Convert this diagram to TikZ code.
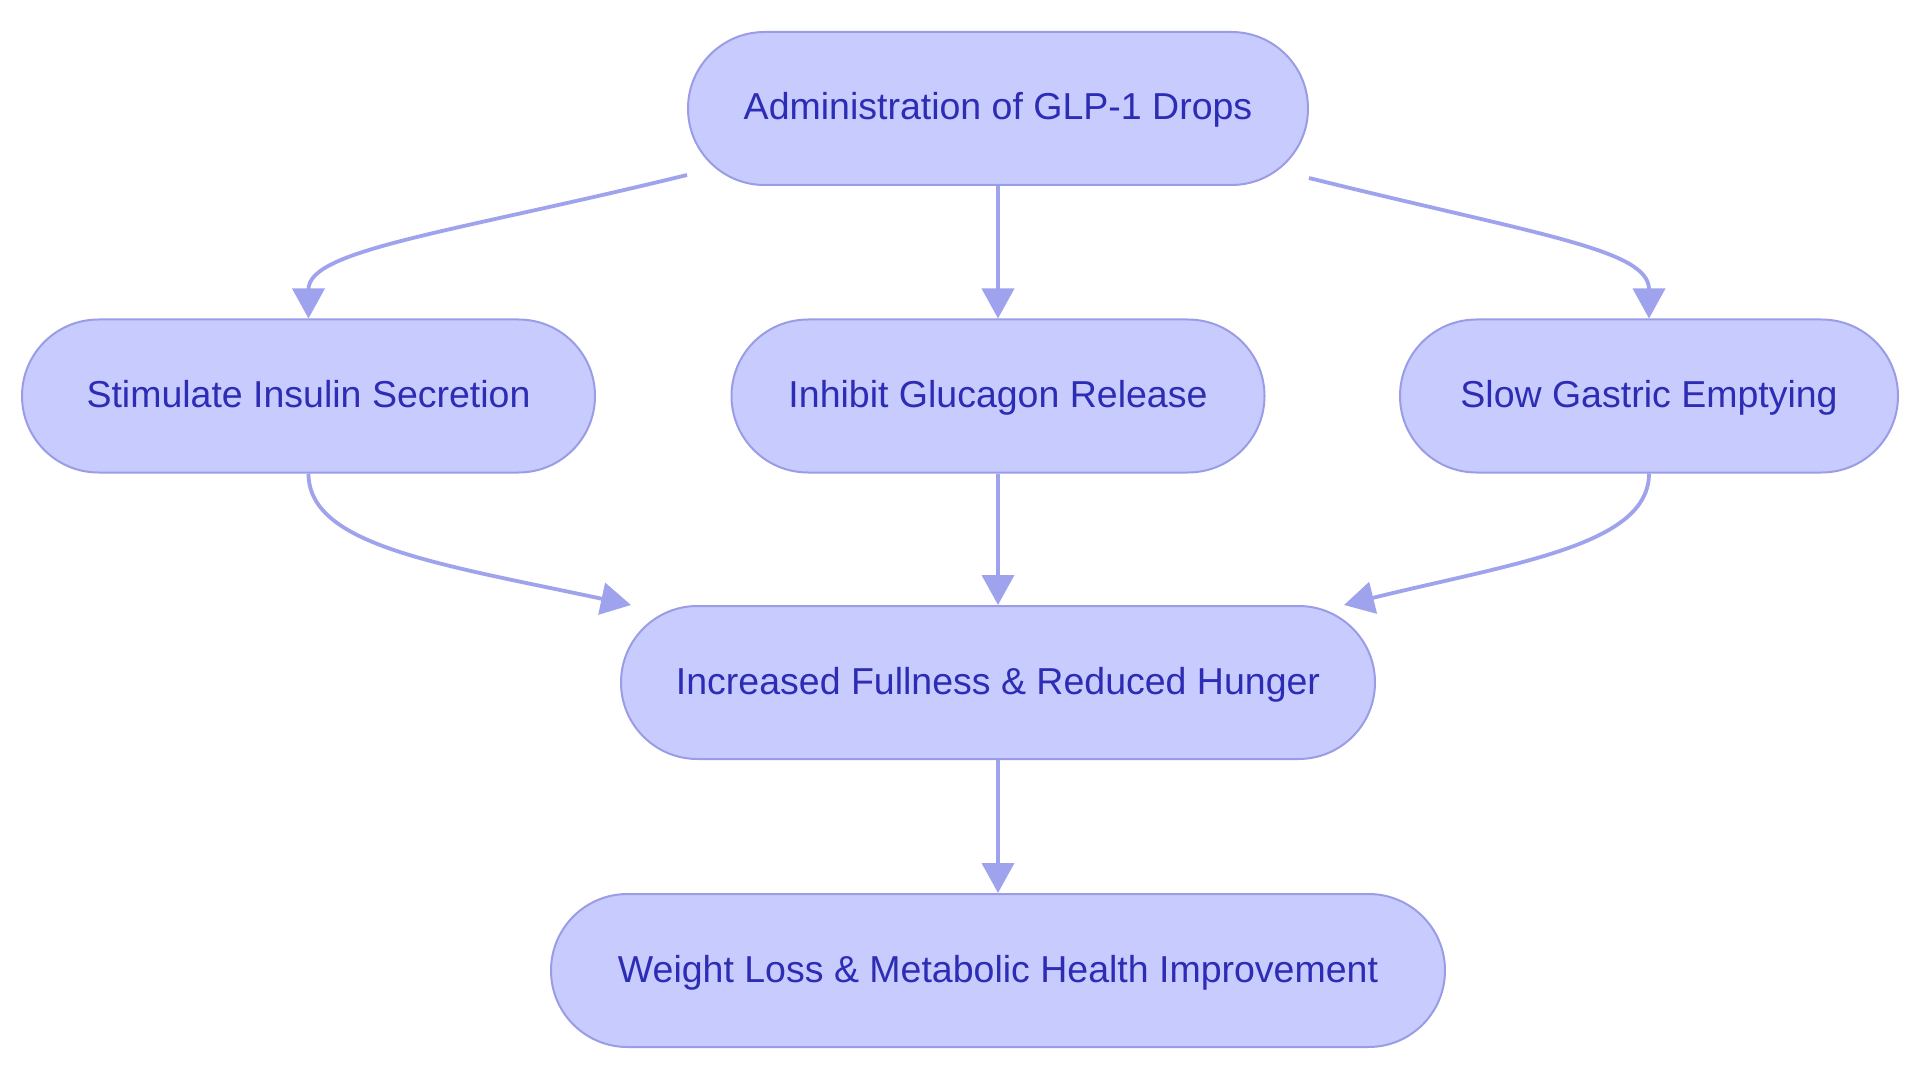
\documentclass[tikz,border=0pt]{standalone}
\usepackage{fontspec}
\setmainfont{Liberation Sans}
\usepackage{tikz}
\usetikzlibrary{arrows.meta}
\definecolor{boxfill}{HTML}{C8CBFD}
\definecolor{boxline}{HTML}{9A9DE6}
\definecolor{flowline}{HTML}{9FA2EC}
\definecolor{boxtext}{HTML}{2C2CB4}

\begin{document}
\begin{tikzpicture}[x=1pt,y=-1pt]
  \tikzstyle{every node}=[font=\fontsize{37.5}{45}\selectfont,text=boxtext]
  \tikzstyle{box}=[draw=boxline,fill=boxfill,line width=2pt,rounded corners=76.5pt,minimum height=153pt,text height=31pt,text depth=8pt]
  \tikzstyle{flow}=[draw=flowline,line width=3.8pt,-{Triangle[length=30pt,width=32pt]}]
  \fill[white] (0,0) rectangle (1920,1083);
  \useasboundingbox (0,0) rectangle (1920,1083);
  \node[box,minimum width=620pt] (1) at (998,108.5) {Administration of GLP-1 Drops};
  \node[box,minimum width=573pt] (2) at (308.5,396) {Stimulate Insulin Secretion};
  \node[box,minimum width=533pt] (3) at (998,396) {Inhibit Glucagon Release};
  \node[box,minimum width=498pt] (4) at (1649,396) {Slow Gastric Emptying};
  \node[box,minimum width=754pt] (5) at (998,682.5) {Increased Fullness \& Reduced Hunger};
  \node[box,minimum width=894pt] (6) at (998,970.5) {Weight Loss \& Metabolic Health Improvement};
  \draw[flow] ([yshift=11pt]1.south west) .. controls +(-237,58) and +(0,-69) .. (2.north);
  \draw[flow] (1.south) -- (3.north);
  \draw[flow] ([yshift=8pt]1.south east) .. controls +(230,57) and +(0,-69) .. (4.north);
  \draw[flow] (2.south) .. controls +(0,72) and +(-192,-41) .. ([xshift=11pt]5.north west);
  \draw[flow] (3.south) -- (5.north);
  \draw[flow] (4.south) .. controls +(0,72) and +(170,-42) .. ([xshift=-32pt]5.north east);
  \draw[flow] (5.south) -- (6.north);
\end{tikzpicture}
\end{document}
